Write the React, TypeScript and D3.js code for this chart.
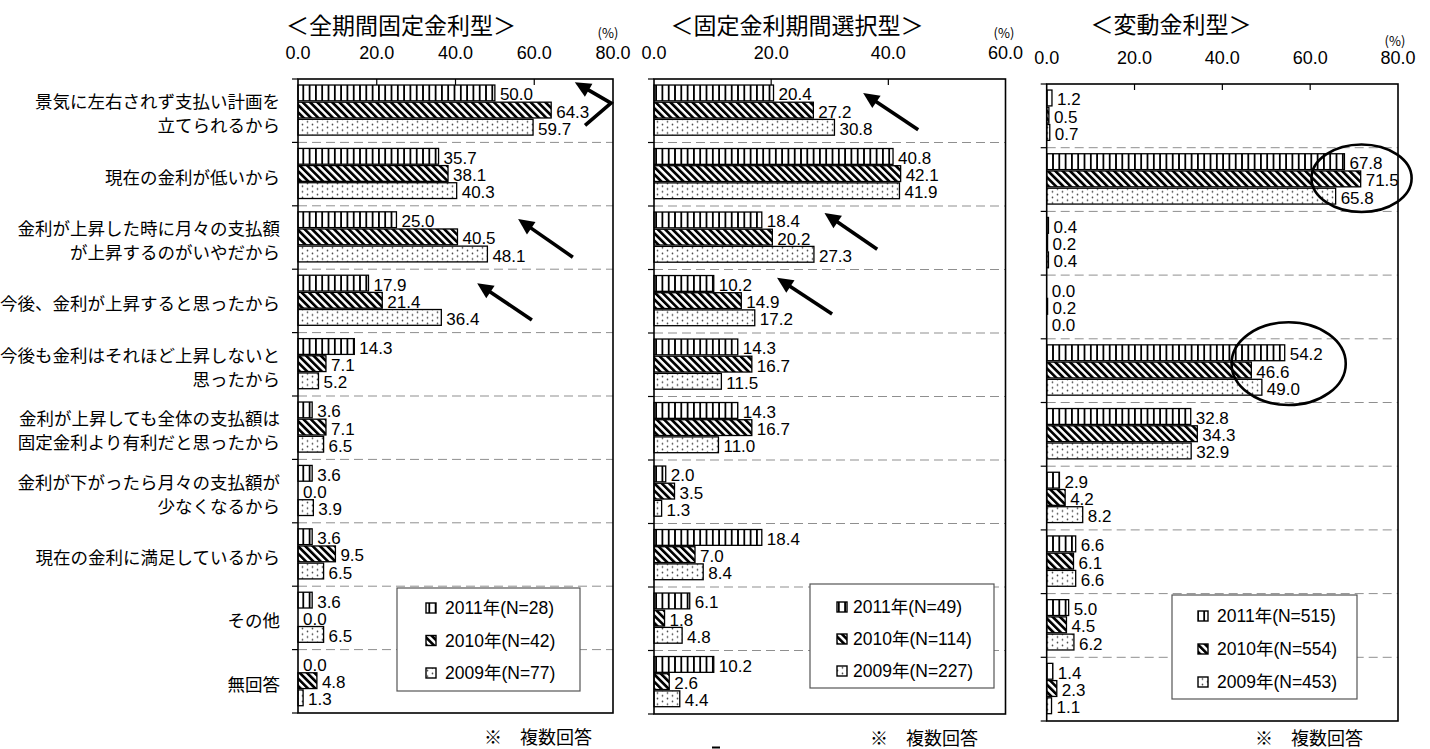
import React from "react";
import * as d3 from "d3";

// Reasons for choosing each mortgage type (multiple answers, %)
const categories: string[][] = [
  ["景気に左右されず支払い計画を", "立てられるから"],
  ["現在の金利が低いから"],
  ["金利が上昇した時に月々の支払額", "が上昇するのがいやだから"],
  ["今後、金利が上昇すると思ったから"],
  ["今後も金利はそれほど上昇しないと", "思ったから"],
  ["金利が上昇しても全体の支払額は", "固定金利より有利だと思ったから"],
  ["金利が下がったら月々の支払額が", "少なくなるから"],
  ["現在の金利に満足しているから"],
  ["その他"],
  ["無回答"],
];
const yearKeys = ["2011", "2010", "2009"];

// 全期間固定金利型
const fullFixed2011 = [50.0, 35.7, 25.0, 17.9, 14.3, 3.6, 3.6, 3.6, 3.6, 0.0];
const fullFixed2010 = [64.3, 38.1, 40.5, 21.4, 7.1, 7.1, 0.0, 9.5, 0.0, 4.8];
const fullFixed2009 = [59.7, 40.3, 48.1, 36.4, 5.2, 6.5, 3.9, 6.5, 6.5, 1.3];
const fullFixedN = [28, 42, 77];
const fullFixedTicks = [0, 20, 40, 60, 80];

// 固定金利期間選択型
const periodSelect2011 = [20.4, 40.8, 18.4, 10.2, 14.3, 14.3, 2.0, 18.4, 6.1, 10.2];
const periodSelect2010 = [27.2, 42.1, 20.2, 14.9, 16.7, 16.7, 3.5, 7.0, 1.8, 2.6];
const periodSelect2009 = [30.8, 41.9, 27.3, 17.2, 11.5, 11.0, 1.3, 8.4, 4.8, 4.4];
const periodSelectN = [49, 114, 227];
const periodSelectTicks = [0, 20, 40, 60];

// 変動金利型
const variable2011 = [1.2, 67.8, 0.4, 0.0, 54.2, 32.8, 2.9, 6.6, 5.0, 1.4];
const variable2010 = [0.5, 71.5, 0.2, 0.2, 46.6, 34.3, 4.2, 6.1, 4.5, 2.3];
const variable2009 = [0.7, 65.8, 0.4, 0.0, 49.0, 32.9, 8.2, 6.6, 6.2, 1.1];
const variableN = [515, 554, 453];
const variableTicks = [0, 20, 40, 60, 80];

// Highlight arrows, in data space: [value, category position]
const fullFixedArrows = [
  [[72.9, 0.73], [79.5, 0.38], [70.3, 0.05]],
  [[69.8, 2.81], [55.9, 2.21]],
  [[59.4, 3.8], [45.5, 3.22]],
];
const periodSelectArrows = [
  [[45.1, 0.8], [35.7, 0.22]],
  [[38.1, 2.68], [29.1, 2.11]],
  [[30.4, 3.7], [21.0, 3.13]],
];
// Highlight ellipses, in data space
const variableEllipses = [
  { value: 71.7, pos: 1.48, rx: 11.4, ry: 0.53 },
  { value: 55.1, pos: 4.39, rx: 13.0, ry: 0.65 },
];

const NUM_FONT = "'Liberation Sans Narrow', 'Arial Narrow', 'Liberation Sans', Arial, sans-serif";
const JP_FONT = "'Noto Sans CJK JP', sans-serif";
const LEGEND_FONT = "'Liberation Sans', Arial, 'Noto Sans CJK JP', sans-serif";

const fmt = d3.format(".1f");
const patternIds = ["pat2011", "pat2010", "pat2009"];

type Legend = { x: number; y: number; w: number; h: number; iconX: number; textX: number; row0: number; rowStep: number };
type Panel = {
  title: string;
  series: number[][];
  n: number[];
  ticks: number[];
  left: number;
  right: number;
  top: number;
  bottom: number;
  titleX: number;
  titleY: number;
  tickY: number;
  pctX: number;
  pctY: number;
  legend: Legend;
  noteX: number;
  noteY: number;
  arrows: number[][][];
  ellipses: { value: number; pos: number; rx: number; ry: number }[];
  showCategories: boolean;
};

const panels: Panel[] = [
  {
    title: "＜全期間固定金利型＞",
    series: [fullFixed2011, fullFixed2010, fullFixed2009],
    n: fullFixedN,
    ticks: fullFixedTicks,
    left: 298,
    right: 613,
    top: 79,
    bottom: 713,
    titleX: 401,
    titleY: 24,
    tickY: 53,
    pctX: 608,
    pctY: 32,
    legend: { x: 397, y: 588, w: 183, h: 103, iconX: 29, textX: 48, row0: 20, rowStep: 32.5 },
    noteX: 484,
    noteY: 735.5,
    arrows: fullFixedArrows,
    ellipses: [],
    showCategories: true,
  },
  {
    title: "＜固定金利期間選択型＞",
    series: [periodSelect2011, periodSelect2010, periodSelect2009],
    n: periodSelectN,
    ticks: periodSelectTicks,
    left: 654,
    right: 1005.5,
    top: 79,
    bottom: 714,
    titleX: 797,
    titleY: 24,
    tickY: 53,
    pctX: 1004,
    pctY: 32,
    legend: { x: 810, y: 584, w: 184, h: 104, iconX: 27, textX: 43, row0: 23, rowStep: 32 },
    noteX: 870,
    noteY: 737,
    arrows: periodSelectArrows,
    ellipses: [],
    showCategories: false,
  },
  {
    title: "＜変動金利型＞",
    series: [variable2011, variable2010, variable2009],
    n: variableN,
    ticks: variableTicks,
    left: 1046.7,
    right: 1398,
    top: 84,
    bottom: 721,
    titleX: 1171,
    titleY: 23,
    tickY: 58,
    pctX: 1395,
    pctY: 40,
    legend: { x: 1172, y: 595, w: 185, h: 104, iconX: 26, textX: 45, row0: 21, rowStep: 33 },
    noteX: 1255,
    noteY: 737,
    arrows: [],
    ellipses: variableEllipses,
    showCategories: false,
  },
];

function ArrowMark({ pts }: { pts: [number, number][] }) {
  const n = pts.length;
  const [hx, hy] = pts[n - 1];
  const [px, py] = pts[n - 2];
  const ang = Math.atan2(hy - py, hx - px);
  const headLen = 16;
  const headHalf = 7.5;
  const bx = hx - headLen * Math.cos(ang);
  const by = hy - headLen * Math.sin(ang);
  const nx = -Math.sin(ang);
  const ny = Math.cos(ang);
  const linePts = pts.slice(0, n - 1).concat([[bx + 2 * Math.cos(ang), by + 2 * Math.sin(ang)]]);
  const line = d3.line()(linePts) as string;
  const head = `M${hx},${hy}L${bx + nx * headHalf},${by + ny * headHalf}L${bx - nx * headHalf},${by - ny * headHalf}Z`;
  return (
    <g>
      <path d={line} fill="none" stroke="#000" strokeWidth={3.6} strokeLinejoin="miter" />
      <path d={head} fill="#000" />
    </g>
  );
}

function PanelView({ p }: { p: Panel }) {
  const x = d3.scaleLinear().domain([0, p.ticks[p.ticks.length - 1]]).range([p.left, p.right]);
  const y = d3
    .scaleBand<number>()
    .domain(d3.range(categories.length))
    .range([p.top, p.bottom]);
  const step = y.step();
  const sub = d3
    .scaleBand<string>()
    .domain(yearKeys)
    .range([0.095 * step, 0.885 * step])
    .paddingInner(0.08);
  const pos = (f: number) => p.top + f * step;
  const lg = p.legend;

  return (
    <g>
      {/* title */}
      <text x={p.titleX} y={p.titleY} textAnchor="middle" dominantBaseline="central" fontFamily={JP_FONT} fontSize={23} fill="#000">
        {p.title}
      </text>
      <text x={p.pctX} y={p.pctY} textAnchor="middle" dominantBaseline="central" fontFamily={JP_FONT} fontSize={13} fill="#000">
        (%)
      </text>

      {/* value axis labels */}
      {p.ticks.map((t) => (
        <text key={t} x={x(t)} y={p.tickY} textAnchor="middle" dominantBaseline="central" fontFamily={NUM_FONT} fontSize={18} fill="#000">
          {fmt(t)}
        </text>
      ))}

      {/* category separators */}
      {d3.range(1, categories.length).map((i) => (
        <line key={i} x1={p.left} x2={p.right} y1={pos(i)} y2={pos(i)} stroke="#8f8f8f" strokeWidth={1} strokeDasharray="9,5" />
      ))}

      {/* bars */}
      {p.series.map((vals, s) =>
        vals.map((v, i) => {
          const by = (y(i) as number) + (sub(yearKeys[s]) as number);
          return (
            <rect
              key={`${s}-${i}`}
              x={x(0)}
              y={by}
              width={Math.max(0, x(v) - x(0))}
              height={sub.bandwidth()}
              fill={`url(#${patternIds[s]})`}
              stroke="#000"
              strokeWidth={v > 0 ? 1.3 : 0}
            />
          );
        })
      )}

      {/* value labels */}
      {p.series.map((vals, s) =>
        vals.map((v, i) => {
          const by = (y(i) as number) + (sub(yearKeys[s]) as number) + sub.bandwidth() / 2 + 2;
          return (
            <text key={`l${s}-${i}`} x={x(v) + 5} y={by} dominantBaseline="central" fontFamily={NUM_FONT} fontSize={17} fill="#000">
              {fmt(v)}
            </text>
          );
        })
      )}

      {/* frame */}
      <rect x={p.left} y={p.top} width={p.right - p.left} height={p.bottom - p.top} fill="none" stroke="#000" strokeWidth={1.6} />
      {p.ticks.slice(1, -1).map((t) => (
        <line key={`t${t}`} x1={x(t)} x2={x(t)} y1={p.top} y2={p.top + 6} stroke="#000" strokeWidth={1.2} />
      ))}
      {d3.range(0, categories.length + 1).map((i) => (
        <line key={`c${i}`} x1={p.left - 6} x2={p.left} y1={pos(i)} y2={pos(i)} stroke="#000" strokeWidth={1.2} />
      ))}

      {/* category names */}
      {p.showCategories &&
        categories.map((lines, i) => {
          const cy = (y(i) as number) + step / 2 + 2;
          return lines.map((ln, k) => (
            <text
              key={`n${i}-${k}`}
              x={280}
              y={cy + (k - (lines.length - 1) / 2) * 24}
              textAnchor="end"
              dominantBaseline="central"
              fontFamily={JP_FONT}
              fontSize={17.5}
              fill="#000"
            >
              {ln}
            </text>
          ));
        })}

      {/* legend */}
      <rect x={lg.x} y={lg.y} width={lg.w} height={lg.h} fill="#fff" stroke="#555" strokeWidth={1.2} />
      {yearKeys.map((yr, s) => {
        const ry = lg.y + lg.row0 + s * lg.rowStep;
        return (
          <g key={yr}>
            <rect x={lg.x + lg.iconX} y={ry - 5} width={10} height={10} fill={`url(#${patternIds[s]})`} stroke="#000" strokeWidth={1.4} />
            <text x={lg.x + lg.textX} y={ry} dominantBaseline="central" fontFamily={LEGEND_FONT} fontSize={17.5} fill="#000">
              {`${yr}年(N=${p.n[s]})`}
            </text>
          </g>
        );
      })}

      {/* note */}
      <text x={p.noteX} y={p.noteY} dominantBaseline="central" fontFamily={JP_FONT} fontSize={18} fill="#000">
        ※　複数回答
      </text>

      {/* highlight arrows */}
      {p.arrows.map((a, k) => (
        <ArrowMark key={`a${k}`} pts={a.map(([v, f]) => [x(v), pos(f)] as [number, number])} />
      ))}

      {/* highlight ellipses */}
      {p.ellipses.map((e, k) => (
        <ellipse
          key={`e${k}`}
          cx={x(e.value)}
          cy={pos(e.pos)}
          rx={x(e.rx) - x(0)}
          ry={e.ry * step}
          fill="none"
          stroke="#000"
          strokeWidth={2.6}
        />
      ))}
    </g>
  );
}

export default function App() {
  return (
    <div style={{ position: "absolute", left: 0, top: 0 }}>
      <svg width={1430} height={749} viewBox="0 0 1430 749" style={{ display: "block", background: "#fff" }}>
        <defs>
          <pattern id="pat2011" patternUnits="userSpaceOnUse" width={6.3} height={20}>
            <rect width={6.3} height={20} fill="#fff" />
            <rect x={0} width={1.8} height={20} fill="#000" />
          </pattern>
          <pattern id="pat2010" patternUnits="userSpaceOnUse" width={5.2} height={5.2} patternTransform="rotate(-45)">
            <rect width={5.2} height={5.2} fill="#fff" />
            <rect x={0} width={2.7} height={5.2} fill="#000" />
          </pattern>
          <pattern id="pat2009" patternUnits="userSpaceOnUse" width={10} height={5.6}>
            <rect width={10} height={5.6} fill="#fff" />
            <circle cx={2.5} cy={1.4} r={0.85} fill="#444" />
            <circle cx={7.5} cy={4.2} r={0.85} fill="#444" />
          </pattern>
        </defs>
        <rect width={1430} height={749} fill="#fff" />
        {panels.map((p, i) => (
          <PanelView key={i} p={p} />
        ))}
        <line x1={712} x2={720} y1={747.5} y2={747.5} stroke="#000" strokeWidth={2} />
      </svg>
    </div>
  );
}
